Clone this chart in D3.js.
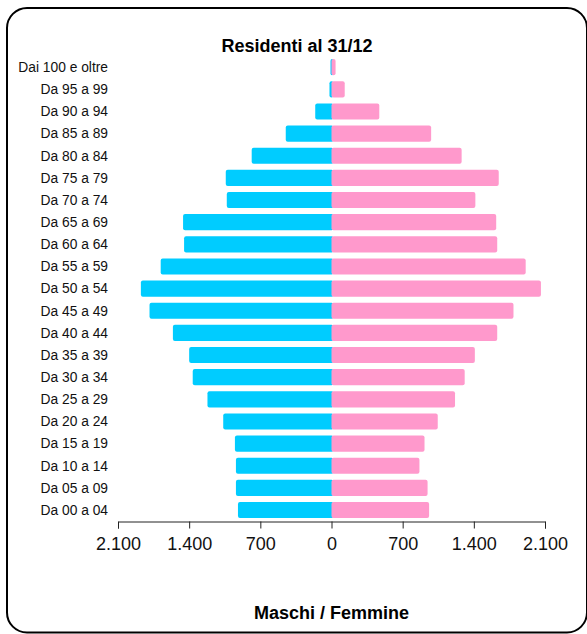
<!DOCTYPE html>
<html>
<head>
<meta charset="utf-8">
<script src="https://cdn.jsdelivr.net/npm/d3@7"></script>
<style>
  body { margin: 0; background: #fff; }
  text { font-family: "Liberation Sans", Arial, sans-serif; }
</style>
</head>
<body>
<svg id="chart" width="587" height="634"></svg>
<script>
// eta, dall'alto verso il basso
var classi = ['Dai 100 e oltre', 'Da 95 a 99', 'Da 90 a 94', 'Da 85 a 89', 'Da 80 a 84',
  'Da 75 a 79', 'Da 70 a 74', 'Da 65 a 69', 'Da 60 a 64', 'Da 55 a 59', 'Da 50 a 54',
  'Da 45 a 49', 'Da 40 a 44', 'Da 35 a 39', 'Da 30 a 34', 'Da 25 a 29', 'Da 20 a 24',
  'Da 15 a 19', 'Da 10 a 14', 'Da 05 a 09', 'Da 00 a 04'];
var maschi = [10, 20, 160, 450, 785, 1040, 1030, 1460, 1450, 1680, 1875,
  1790, 1560, 1400, 1365, 1220, 1065, 950, 940, 940, 920];
var femmine = [40, 130, 470, 980, 1280, 1645, 1415, 1620, 1630, 1910, 2060,
  1790, 1630, 1410, 1310, 1215, 1045, 915, 865, 945, 960];
var ticks = [-2100, -1400, -700, 0, 700, 1400, 2100];
var maxVal = 2100;

var svg = d3.select('#chart');

// cornice arrotondata
svg.append('rect')
  .attr('x', 7).attr('y', 8)
  .attr('width', 580).attr('height', 624.5)
  .attr('rx', 20)
  .attr('fill', 'none')
  .attr('stroke', '#000')
  .attr('stroke-width', 2);

var x = d3.scaleLinear()
  .domain([-maxVal, maxVal])
  .range([118, 545]);

var y = d3.scaleBand()
  .domain(classi)
  .range([56.1, 521.1])
  .paddingInner(0.27)
  .paddingOuter(0.135);

var it = d3.formatLocale({ decimal: ',', thousands: '.', grouping: [3], currency: ['€', ''] });
var fmt = it.format(',d');

var g = svg.append('g');

// maschi a sinistra
g.selectAll('rect.m')
  .data(maschi)
  .enter().append('rect')
  .attr('class', 'm')
  .attr('x', function(d) { return x(-d); })
  .attr('y', function(d, i) { return y(classi[i]); })
  .attr('width', function(d) { return x(0) - x(-d) + 2; })
  .attr('height', y.bandwidth())
  .attr('rx', 2)
  .attr('fill', '#00ccff');

// femmine a destra
g.selectAll('rect.f')
  .data(femmine)
  .enter().append('rect')
  .attr('class', 'f')
  .attr('x', x(0))
  .attr('y', function(d, i) { return y(classi[i]); })
  .attr('width', function(d) { return x(d) - x(0); })
  .attr('height', y.bandwidth())
  .attr('rx', 2)
  .attr('fill', '#ff99cc');

// etichette eta
g.selectAll('text.lab')
  .data(classi)
  .enter().append('text')
  .attr('class', 'lab')
  .attr('x', 108)
  .attr('y', function(d) { return y(d) + y.bandwidth() / 2; })
  .attr('dy', '0.35em')
  .attr('text-anchor', 'end')
  .style('font-size', '13.8px')
  .attr('fill', '#111')
  .text(function(d) { return d; });

var axis = d3.axisBottom(x)
  .tickValues(ticks)
  .tickSize(7)
  .tickSizeOuter(7)
  .tickPadding(9)
  .tickFormat(function(d) { return fmt(Math.abs(d)); });

var ax = svg.append('g')
  .attr('transform', 'translate(0,521.5)')
  .call(axis);
ax.selectAll('text')
  .style('font-size', '18px')
  .style('font-family', '"Liberation Sans", Arial, sans-serif')
  .attr('fill', '#111');
ax.selectAll('line, path').attr('stroke', '#222');

svg.append('text')
  .attr('x', 297)
  .attr('y', 52)
  .attr('text-anchor', 'middle')
  .style('font-size', '18px')
  .style('font-weight', 'bold')
  .text('Residenti al 31/12');

svg.append('text')
  .attr('x', x(0))
  .attr('y', 619)
  .attr('text-anchor', 'middle')
  .style('font-size', '18px')
  .style('font-weight', 'bold')
  .text('Maschi / Femmine');
</script>
</body>
</html>
